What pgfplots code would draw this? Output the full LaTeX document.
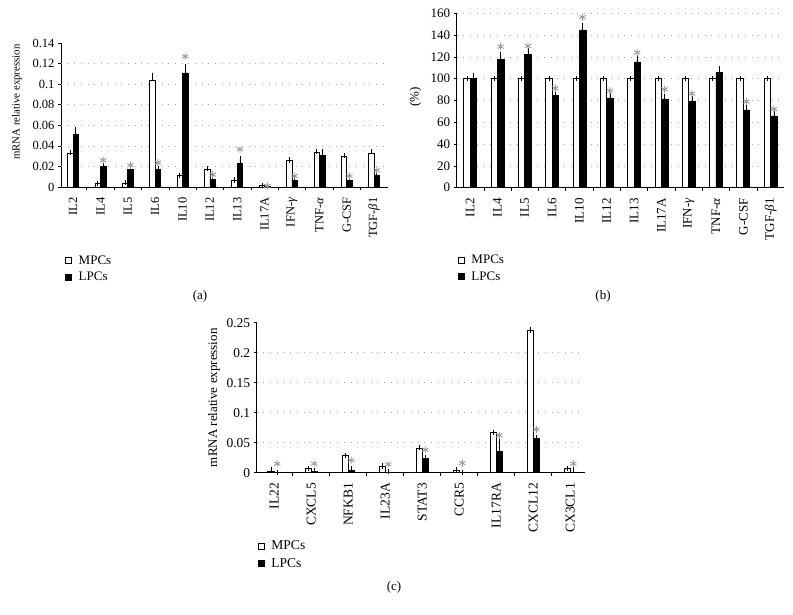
\documentclass[border=0pt]{standalone}
\usepackage{pgfplots}
\usepackage{pgfplotstable}
\pgfplotsset{compat=1.18}
\usepackage{fontspec}
\setmainfont{Liberation Serif}

\pgfplotstableread{
x m me l le
0 0.0323 0.0010 0.0510 0.0050
1 0.0032 0.0004 0.0203 0.0008
2 0.0039 0.0003 0.0168 0.0005
3 0.1036 0.0050 0.0174 0.0005
4 0.0110 0.0005 0.1110 0.0060
5 0.0171 0.0006 0.0077 0.0004
6 0.0065 0.0004 0.0229 0.0048
7 0.0013 0.0002 0.0002 0.0000
8 0.0258 0.0005 0.0068 0.0004
9 0.0336 0.0012 0.0307 0.0038
10 0.0297 0.0006 0.0061 0.0004
11 0.0323 0.0022 0.0116 0.0005
}\dataa
\pgfplotstableread{
x s
1 0.0260
2 0.0211
3 0.0237
4 0.1270
5 0.0120
6 0.0367
7 0.0010
8 0.0107
10 0.0107
11 0.0163
}\stara

\pgfplotstableread{
x m me l le
0 100 0 100.0 3.0
1 100 0 118.0 4.4
2 100 0 122.3 3.7
3 100 0 85.0 2.5
4 100 0 144.7 4.3
5 100 0 82.3 2.4
6 100 0 115.4 3.9
7 100 0 81.4 2.6
8 100 0 79.2 2.2
9 100 0 105.6 3.4
10 100 0 71.3 2.4
11 100 0 65.8 2.1
}\datab
\pgfplotstableread{
x s
1 129.4
2 130.0
3 91.2
4 156.4
5 89.0
6 124.0
7 90.3
8 86.3
10 79.0
11 72.0
}\starb

\pgfplotstableread{
x m me l le
0 0.0028 0.0022 0.0006 0.0004
1 0.0072 0.0004 0.0022 0.0018
2 0.0284 0.0005 0.0039 0.0033
3 0.0106 0.0005 0.0011 0.0003
4 0.0411 0.0006 0.0245 0.0004
5 0.0044 0.0003 0.0006 0.0002
6 0.0667 0.0003 0.0350 0.0178
7 0.2370 0.0008 0.0567 0.0011
8 0.0072 0.0003 0.0006 0.0072
}\datac
\pgfplotstableread{
x s
0 0.0150
1 0.0150
2 0.0206
3 0.0139
4 0.0383
5 0.0161
6 0.0622
7 0.0722
8 0.0150
}\starc

\pgfplotsset{
  panel/.style={
    scale only axis,
    axis x line*=bottom, axis y line*=left,
    axis line style={black, line width=0.6pt},
    tick align=outside,
    major tick length=3pt,
    minor tick length=3pt,
    tick style={black, line width=0.5pt},
    major x tick style={draw=none},
    xticklabel style={rotate=90, anchor=east},
    xticklabel shift=4pt,
    scaled y ticks=false,
    yticklabel style={/pgf/number format/fixed, /pgf/number format/precision=2},
    /pgf/number format/assume math mode=true,
    extra y tick style={grid=major, major tick length=0pt, yticklabel=\empty},
    major grid style={gray!70, line width=0.7pt, dash pattern=on 0.9pt off 5.8pt},
    legend cell align=left,
    legend image code/.code={\draw[#1] (0pt,-3pt) rectangle (6pt,3pt); \path (0pt,0pt) (11pt,0pt);},
    clip=false,
  },
  mpc/.style={ybar, bar width=#1, bar shift=0pt, xshift=-0.5*#1, draw=black, fill=white, line width=0.6pt,
    legend image post style={xshift=0.5*#1},
    error bars/.cd, y dir=plus, y explicit,
    error bar style={line width=0.6pt, black},
    error mark options={mark size=2.6pt, line width=0.6pt, black}},
  lpc/.style={ybar, bar width=#1, bar shift=0pt, xshift=0.5*#1, draw=black, fill=black, line width=0.6pt,
    legend image post style={xshift=-0.5*#1},
    error bars/.cd, y dir=plus, y explicit,
    error bar style={line width=0.6pt, black},
    error mark options={mark size=2.6pt, line width=0.6pt, black}},
  stars/.style={only marks, mark=asterisk, mark size=3.6pt, xshift=#1, forget plot,
    mark options={gray!80, line width=0.9pt}},
}

\begin{document}
\begin{tikzpicture}
\path[use as bounding box] (0,0) rectangle (793pt,614pt);

% ---------------- (a)
\begin{axis}[panel,
  at={(61pt,427pt)}, anchor=south west,
  width=327pt, height=144pt,
  xmin=-0.44, xmax=11.51, ymin=0, ymax=0.14,
  xtick={0,...,11},
  xticklabels={IL2,IL4,IL5,IL6,IL10,IL12,IL13,IL17A,IFN-\textit{γ},TNF-\textit{α},G-CSF,TGF-\textit{β}1},
  minor xtick={0.5,1.5,...,10.5},
  ytick={0,0.02,0.04,0.06,0.08,0.1,0.12,0.14},
  extra y ticks={0.02,0.04,0.06,0.08,0.1,0.12},
  tick label style={font=\fontsize{12.5}{12.5}\selectfont},
  ylabel={mRNA relative expression},
  ylabel style={at={(axis description cs:-0.1346,0.59)}, anchor=center, font=\fontsize{10.8}{12}\selectfont},
  legend style={at={(axis description cs:0.012,-0.46)}, anchor=north west, draw=none, fill=none,
    inner sep=0pt, row sep=2.5pt, font=\fontsize{13}{14}\selectfont},
]
\addplot[mpc=5.5pt] table[x=x, y=m, y error=me] {\dataa};
\addlegendentry{MPCs}
\addplot[lpc=5.5pt] table[x=x, y=l, y error=le] {\dataa};
\addlegendentry{LPCs}
\addplot[stars=2.75pt] table[x=x, y=s] {\stara};
\end{axis}

% ---------------- (b)
\begin{axis}[panel,
  at={(456.7pt,426.3pt)}, anchor=south west,
  width=327.3pt, height=174.4pt,
  xmin=-0.49, xmax=11.49, ymin=0, ymax=160,
  xtick={0,...,11},
  xticklabels={IL2,IL4,IL5,IL6,IL10,IL12,IL13,IL17A,IFN-\textit{γ},TNF-\textit{α},G-CSF,TGF-\textit{β}1},
  minor xtick={0.5,1.5,...,10.5},
  ytick={0,20,...,160},
  extra y ticks={20,40,...,160},
  tick label style={font=\fontsize{13}{13}\selectfont},
  ylabel={(\%)},
  ylabel style={at={(axis description cs:-0.126,0.52)}, anchor=center, font=\fontsize{13}{14}\selectfont},
  legend style={at={(axis description cs:0.003,-0.375)}, anchor=north west, draw=none, fill=none,
    inner sep=0pt, row sep=2pt, font=\fontsize{13}{14}\selectfont},
]
\addplot[mpc=6.5pt] table[x=x, y=m, y error=me] {\datab};
\addlegendentry{MPCs}
\addplot[lpc=6.5pt] table[x=x, y=l, y error=le] {\datab};
\addlegendentry{LPCs}
\addplot[stars=3.25pt] table[x=x, y=s] {\starb};
\end{axis}

% ---------------- (c)
\begin{axis}[panel,
  at={(256.7pt,141.3pt)}, anchor=south west,
  width=328.3pt, height=150pt,
  xmin=-0.47, xmax=8.4, ymin=0, ymax=0.25,
  xtick={0,...,8},
  xticklabels={IL22,CXCL5,NFKB1,IL23A,STAT3,CCR5,IL17RA,CXCL12,CX3CL1},
  minor xtick={0.5,1.5,...,7.5},
  ytick={0,0.05,0.1,0.15,0.2,0.25},
  extra y ticks={0.05,0.1,0.15,0.2},
  tick label style={font=\fontsize{13.5}{13.5}\selectfont},
  ylabel={mRNA relative expression},
  ylabel style={at={(axis description cs:-0.13,0.50)}, anchor=center, font=\fontsize{13}{14}\selectfont},
  legend style={at={(axis description cs:0.003,-0.44)}, anchor=north west, draw=none, fill=none,
    inner sep=0pt, row sep=3pt, font=\fontsize{13.5}{14}\selectfont},
]
\addplot[mpc=6.3pt] table[x=x, y=m, y error=me] {\datac};
\addlegendentry{MPCs}
\addplot[lpc=6.3pt] table[x=x, y=l, y error=le] {\datac};
\addlegendentry{LPCs}
\addplot[stars=3.15pt] table[x=x, y=s] {\starc};
\end{axis}

\node[font=\fontsize{13}{14}\selectfont] at (200pt,318pt) {(a)};
\node[font=\fontsize{13}{14}\selectfont] at (603pt,318pt) {(b)};
\node[font=\fontsize{13}{14}\selectfont] at (394pt,27pt) {(c)};
\end{tikzpicture}
\end{document}
